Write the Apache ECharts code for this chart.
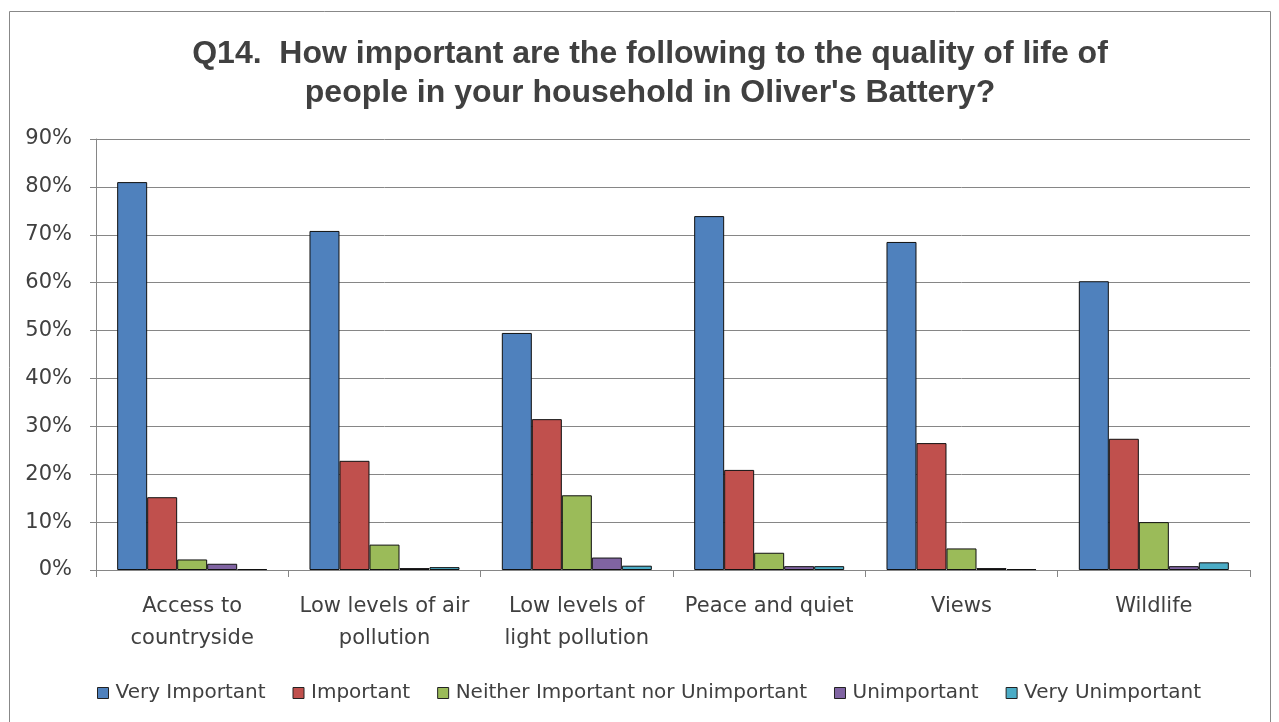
<!DOCTYPE html>
<html><head><meta charset="utf-8">
<script src="https://cdn.jsdelivr.net/npm/echarts@6/dist/echarts.min.js"></script>
<style>html,body{margin:0;padding:0;background:#fff}#c{width:1279px;height:722px}</style>
</head><body><div id="c"></div>
<script>
const categories = ['Access to\ncountryside','Low levels of air\npollution','Low levels of\nlight pollution','Peace and quiet','Views','Wildlife'];
const seriesNames = ['Very Important','Important','Neither Important nor Unimportant','Unimportant','Very Unimportant'];
const veryImportant = [81.0, 70.8, 49.5, 73.9, 68.5, 60.3];
const important = [15.2, 22.8, 31.5, 20.9, 26.5, 27.4];
const neither = [2.2, 5.3, 15.6, 3.6, 4.5, 10.0];
const unimportant = [1.3, 0.4, 2.6, 0.8, 0.4, 0.8];
const veryUnimportant = [0.2, 0.6, 0.9, 0.8, 0.2, 1.6];
const colors = ['#4F81BD','#C0504D','#9BBB59','#8064A2','#4BACC6'];
const allData = [veryImportant, important, neither, unimportant, veryUnimportant];

const chart = echarts.init(document.getElementById('c'));
const font = 'DejaVu Sans';
chart.setOption({
  animation: false,
  graphic: [{type:'rect', shape:{x:9.5,y:11.5,width:1261,height:720}, style:{fill:'none', stroke:'#888', lineWidth:1}, z:-1}],
  title: {
    text: "Q14.  How important are the following to the quality of life of\npeople in your household in Oliver's Battery?",
    left: 645, textAlign: 'center', top: 30,
    textStyle: {fontFamily: 'Liberation Sans', fontWeight: 'bold', fontSize: 32, color: '#404040', lineHeight: 39}
  },
  legend: {
    bottom: 14, left: 92, itemWidth: 11, itemHeight: 11, itemGap: 27,
    icon: 'rect',
    textStyle: {fontFamily: font, fontSize: 20, color: '#404040', padding:[0,0,0,2]},
    data: seriesNames.map((n,i)=>({name:n, itemStyle:{color:colors[i], borderColor:'#222', borderWidth:1}}))
  },
  grid: {left: 96, right: 29, top: 139, bottom: 152, containLabel: false},
  xAxis: {
    type: 'category', data: categories,
    axisLine: {lineStyle: {color: '#868686'}},
    axisTick: {show: true, length: 7, lineStyle: {color: '#868686'}},
    axisLabel: {interval: 0, fontFamily: font, fontSize: 21, color: '#404040', lineHeight: 32, margin: 21}
  },
  yAxis: {
    type: 'value', min: 0, max: 90, interval: 10,
    axisLine: {show: true, lineStyle: {color: '#868686'}},
    axisTick: {show: true, length: 6, lineStyle: {color: '#868686'}},
    splitLine: {lineStyle: {color: '#868686'}},
    axisLabel: {formatter: '{value}%', fontFamily: font, fontSize: 21, color: '#404040', margin: 24}
  },
  series: seriesNames.map((n,i)=>({
    name: n, type: 'bar', data: allData[i], barGap: '0%', barCategoryGap: '22%',
    itemStyle: {color: colors[i], borderColor: '#111', borderWidth: 1}
  }))
});
</script></body></html>
